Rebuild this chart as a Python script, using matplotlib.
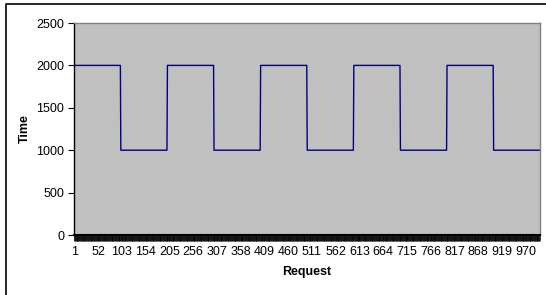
import numpy as np
import matplotlib
matplotlib.use("Agg")
import matplotlib.pyplot as plt
from matplotlib.lines import Line2D

# Data: run-length description (request ranges and times)
segment_starts = [1, 101, 201, 301, 401, 501, 601, 701, 801, 901]
segment_levels = [2000, 1000, 2000, 1000, 2000, 1000, 2000, 1000, 2000, 1000]
n_requests = 1000
x_tick_labels = [1, 52, 103, 154, 205, 256, 307, 358, 409, 460, 511, 562,
                 613, 664, 715, 766, 817, 868, 919, 970]
y_ticks = [0, 500, 1000, 1500, 2000, 2500]

requests = np.arange(1, n_requests + 1)
bounds = segment_starts + [n_requests + 1]
times = np.concatenate([np.full(bounds[i + 1] - bounds[i], lvl)
                        for i, lvl in enumerate(segment_levels)])

plt.rcParams['font.family'] = ['Liberation Sans', 'DejaVu Sans']

W, H = 546, 295
fig = plt.figure(figsize=(W / 100, H / 100), dpi=100)
fig.patch.set_facecolor('white')

ax = fig.add_axes([74 / W, 1 - 235 / H, (540 - 74) / W, (235 - 23) / H])
ax.set_facecolor('#c0c0c0')
ax.plot(requests, times, color='#000080', lw=1.0)

ax.set_xlim(0.5, n_requests + 0.5)
ax.set_ylim(0, 2500)
ax.set_yticks(y_ticks)
ax.set_xticks(x_tick_labels)
ax.set_xticklabels([str(v) for v in x_tick_labels])
ax.set_xticks(requests, minor=True)

ax.tick_params(axis='y', direction='out', length=4, width=0.8, labelsize=9, pad=3, colors='black')
ax.tick_params(axis='x', which='major', direction='out', length=4, width=0.6, labelsize=9, pad=4)
ax.tick_params(axis='x', which='minor', direction='out', length=4, width=0.5, color='black')

for s in ['top', 'right']:
    ax.spines[s].set_color('#808080')
    ax.spines[s].set_linewidth(1.0)
ax.spines['left'].set_color('black')
ax.spines['bottom'].set_color('black')
ax.spines['left'].set_linewidth(1.0)
ax.spines['bottom'].set_linewidth(1.5)

fig.text(307 / W, 1 - 272 / H, 'Request', ha='center', va='center', fontsize=9, fontweight='bold')
fig.text(25 / W, 1 - 129 / H, 'Time', ha='center', va='center', fontsize=9, fontweight='bold', rotation=90)

# outer chart border (left and top visible)
fig.add_artist(Line2D([5.5 / W, 5.5 / W, 1.0], [0.0, 1 - 3.5 / H, 1 - 3.5 / H],
                      transform=fig.transFigure, color='black', lw=1.2))

fig.savefig('out.png', dpi=100)
